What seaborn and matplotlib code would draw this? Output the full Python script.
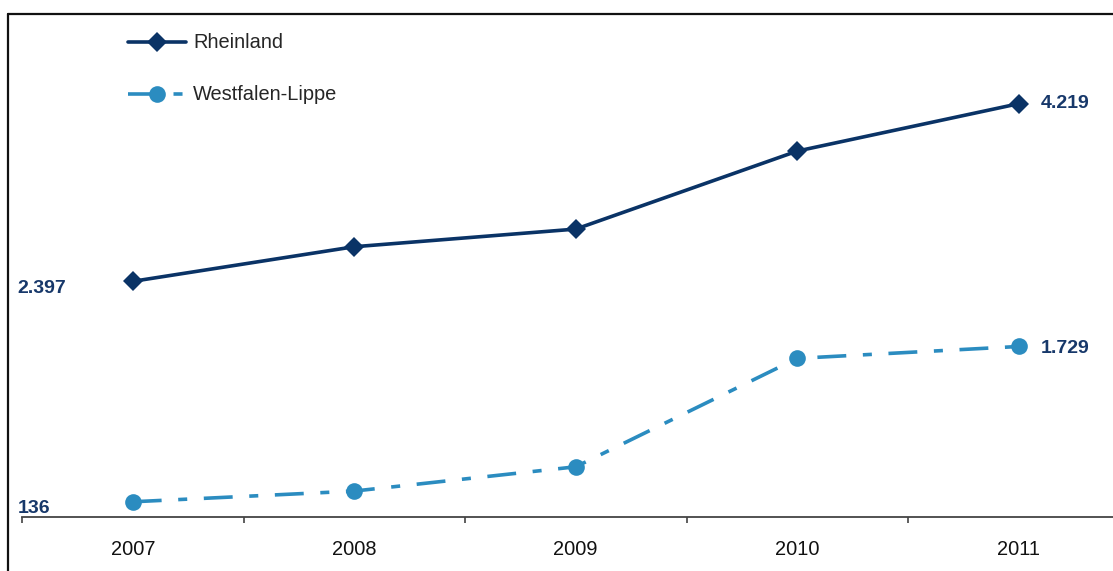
import matplotlib
matplotlib.use("Agg")
import matplotlib.pyplot as plt
from matplotlib.lines import Line2D
import seaborn as sns
import pandas as pd

# Data
years = ["2007", "2008", "2009", "2010", "2011"]
rheinland = [2397, 2752, 2933, 3733, 4219]
westfalen_lippe = [136, 246, 495, 1607, 1729]
series_names = ["Rheinland", "Westfalen-Lippe"]

navy = "#0a3366"
light_blue = "#2b8cc0"
label_color = "#17386a"

sns.set_theme(style="white")
plt.rcParams["font.family"] = ["Liberation Sans", "DejaVu Sans"]

df = pd.DataFrame({
    "pos": list(range(len(years))) * 2,
    "value": rheinland + westfalen_lippe,
    "region": [series_names[0]] * len(years) + [series_names[1]] * len(years),
})

W, H = 1113, 571
fig = plt.figure(figsize=(W / 100, H / 100), dpi=100)
# axes: x from -0.5 to 4.5 spans px 22..1129.5; 0.0975 px per unit
ymin, ymax = -20, 5000
ax = fig.add_axes([22 / W, (H - 517) / H, 1107.5 / W, (ymax - ymin) * 0.0975 / H])

D_SIZE, O_SIZE = 10.5, 12
sns.lineplot(
    data=df, x="pos", y="value", hue="region", style="region",
    palette={series_names[0]: navy, series_names[1]: light_blue},
    markers={series_names[0]: "D", series_names[1]: "o"},
    dashes={series_names[0]: "", series_names[1]: (8.0, 4.6, 2.5, 4.6)},
    linewidth=2.6, markeredgewidth=0, ax=ax, legend=True,
)
for ln in ax.get_lines():
    if ln.get_marker() == "D":
        ln.set_markersize(D_SIZE)
    elif ln.get_marker() == "o":
        ln.set_markersize(O_SIZE)
    ln.set_dash_capstyle("butt")

ax.set_xlim(-0.5, 4.5)
ax.set_ylim(ymin, ymax)
ax.set_xlabel("")
ax.set_ylabel("")
ax.set_yticks([])
ax.set_xticks(range(len(years)))
ax.set_xticklabels(years, fontsize=14.4, color="#111111")
ax.set_xticks([i - 0.5 for i in range(len(years) + 1)], minor=True)
ax.tick_params(axis="x", which="major", length=0, pad=16.5)
ax.tick_params(axis="x", which="minor", length=4.5, width=1.1, color="#333333",
               direction="out", bottom=True)
for side in ["top", "right", "left"]:
    ax.spines[side].set_visible(False)
ax.spines["bottom"].set_color("#444444")
ax.spines["bottom"].set_linewidth(1.3)
ax.patch.set_alpha(0)

# value labels at first and last points
lab_kw = dict(textcoords="offset points", fontsize=14, fontweight="bold",
              color=label_color, va="center", annotation_clip=False)
ax.annotate(f"{rheinland[0]:,}".replace(",", "."), (0, rheinland[0]),
            xytext=(-82.8, -5.4), ha="left", **lab_kw)
ax.annotate(f"{westfalen_lippe[0]:,}".replace(",", "."), (0, westfalen_lippe[0]),
            xytext=(-82.8, -4.6), ha="left", **lab_kw)
ax.annotate(f"{rheinland[-1]:,}".replace(",", "."), (4, rheinland[-1]),
            xytext=(15.8, 0), ha="left", **lab_kw)
ax.annotate(f"{westfalen_lippe[-1]:,}".replace(",", "."), (4, westfalen_lippe[-1]),
            xytext=(15.8, -1.2), ha="left", **lab_kw)

# legend
handles, labels = ax.get_legend_handles_labels()
for h in handles:
    if h.get_marker() == "D":
        h.set_markersize(D_SIZE)
    elif h.get_marker() == "o":
        h.set_markersize(O_SIZE)
    h.set_markeredgewidth(0)
    h.set_dash_capstyle("butt")
ax.legend(handles, labels, loc="upper left",
          bbox_to_anchor=(128 / W, 1 - 33.5 / H), bbox_transform=fig.transFigure,
          frameon=False, fontsize=14.4, handlelength=2.9, handletextpad=0.35,
          labelspacing=1.65, borderpad=0, borderaxespad=0)

# chart frame (top and left edges)
fig.add_artist(Line2D([8 / W, 8 / W], [0, 1 - 14 / H], transform=fig.transFigure,
                      color="#111111", lw=1.6))
fig.add_artist(Line2D([8 / W, 1], [1 - 14 / H, 1 - 14 / H], transform=fig.transFigure,
                      color="#111111", lw=1.6))

fig.savefig("out.png", dpi=100)
